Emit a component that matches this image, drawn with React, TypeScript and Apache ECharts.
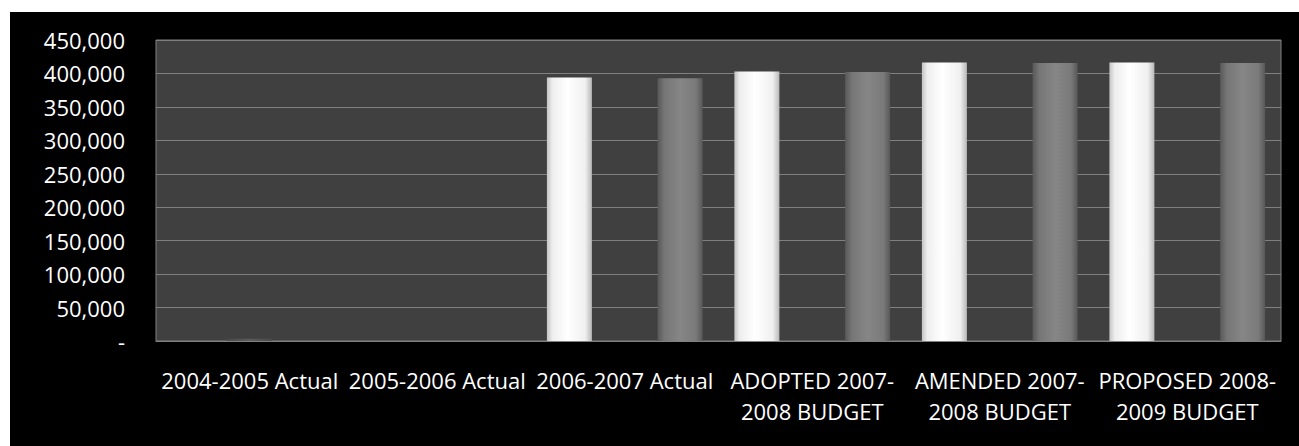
import React, { useEffect, useRef } from "react";
import * as echarts from "echarts";

const categories = [
  "2004-2005 Actual",
  "2005-2006 Actual",
  "2006-2007 Actual",
  "ADOPTED 2007-2008 BUDGET",
  "AMENDED 2007-2008 BUDGET",
  "PROPOSED 2008-2009 BUDGET",
];
const seriesWhite = [0, 0, 394000, 403000, 416500, 416500];
const seriesMiddle = [3500, 0, 0, 0, 0, 0];
const seriesGray = [0, 0, 393000, 402000, 415500, 415500];

const yMin = 0;
const yMax = 450000;
const yStep = 50000;

const FONT = "'Open Sans', 'Noto Sans', sans-serif";

function hGrad(stops: [number, string][]) {
  return new echarts.graphic.LinearGradient(
    0,
    0,
    1,
    0,
    stops.map(([offset, color]) => ({ offset, color }))
  );
}

export default function App() {
  const ref = useRef<HTMLDivElement>(null);
  useEffect(() => {
    if (!ref.current) return;
    const chart = echarts.init(ref.current, undefined, { renderer: "svg" });
    chart.setOption({
      animation: false,
      backgroundColor: "#000000",
      grid: {
        left: 146,
        right: 18,
        top: 28,
        bottom: 105,
        show: true,
        backgroundColor: "#404040",
        borderColor: "#808080",
        borderWidth: 1,
      },
      xAxis: {
        type: "category",
        data: categories,
        axisLine: { show: true, lineStyle: { color: "#808080", width: 1 } },
        axisTick: { show: false },
        axisLabel: {
          interval: 0,
          color: "#ffffff",
          fontFamily: FONT,
          fontSize: 22,
          lineHeight: 31,
          margin: 23,
          formatter: (v: string) => v.replace(/(\d{4}-)(\d{4} BUDGET)/, "$1\n$2"),
        },
      },
      yAxis: {
        type: "value",
        min: yMin,
        max: yMax,
        interval: yStep,
        axisLine: { show: false },
        axisTick: { show: false },
        splitLine: { lineStyle: { color: "#808080", width: 1 } },
        axisLabel: {
          color: "#ffffff",
          fontFamily: FONT,
          fontSize: 22,
          margin: 31,
          formatter: (v: number) => (v === 0 ? "-" : v.toLocaleString("en-US")),
        },
      },
      series: [
        {
          type: "bar",
          data: seriesWhite,
          barWidth: 45,
          barGap: "23%",
          itemStyle: {
            color: hGrad([
              [0, "#c4c4c4"],
              [0.12, "#eeeeee"],
              [0.45, "#ffffff"],
              [0.85, "#f0f0f0"],
              [1, "#b8b8b8"],
            ]),
          },
        },
        {
          type: "bar",
          data: seriesMiddle,
          barWidth: 45,
          barGap: "23%",
          itemStyle: {
            color: hGrad([
              [0, "#4a4a4a"],
              [0.5, "#5c5c5c"],
              [1, "#4a4a4a"],
            ]),
          },
        },
        {
          type: "bar",
          data: seriesGray,
          barWidth: 45,
          barGap: "23%",
          itemStyle: {
            color: hGrad([
              [0, "#585858"],
              [0.15, "#767676"],
              [0.5, "#868686"],
              [0.85, "#7a7a7a"],
              [1, "#585858"],
            ]),
          },
        },
      ],
    });
    return () => chart.dispose();
  }, []);
  return (
    <div
      ref={ref}
      style={{ position: "absolute", left: 10, top: 12, width: 1289, height: 434 }}
    />
  );
}
